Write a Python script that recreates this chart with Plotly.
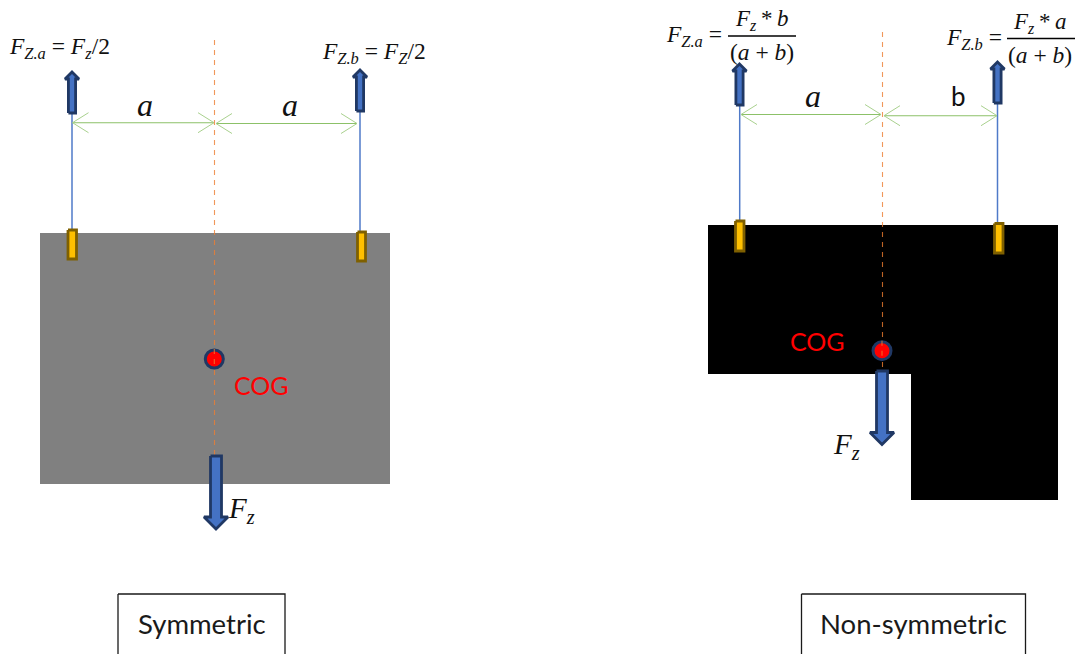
import plotly.graph_objects as go

# --- Diagram geometry (pixel units of the page) ---
body_sym_x = [40, 390, 390, 40, 40]
body_sym_y = [233, 233, 484, 484, 233]
body_non_x = [708, 1058, 1058, 911, 911, 708, 708]
body_non_y = [225, 225, 500, 500, 374, 374, 225]

center_x = [214.5, 882.5]
center_top = [40, 32]
center_bottom = [455, 370]

sling_x = [72, 360, 739.7, 997.5]
sling_top = [112, 110, 105, 103]
sling_bottom = [231, 233, 222, 224]

lug_left = [68, 357.5, 735.5, 994.5]
lug_right = [76.5, 365.5, 744, 1003]
lug_top = [230, 232, 221, 223.5]
lug_bottom = [259, 261, 251, 253]

up_x = [72, 360, 739.5, 997.5]
up_tip = [72, 70, 64, 62]
up_tail = [113, 111, 105, 103]

down_x = [216, 882]
down_tail = [456, 371]
down_tip = [529, 444.5]

dim_left = [72.5, 216, 741, 884]
dim_right = [214, 357, 881, 997]
dim_y = [122.7, 123.5, 114.5, 115.7]

cog_x = [214.3, 882]
cog_y = [359, 350.7]

box_left = [118, 801.5]
box_right = [285, 1025.5]
box_top = [594, 594]
box_bottom = [670, 670]
box_labels = ["Symmetric", "Non-symmetric"]

rule_left = [728, 1007]
rule_right = [796, 1075]
rule_y = [36, 38.5]

MATH = "Liberation Serif"
SANS = "Lato"
DASH = "rgba(237,125,49,0.8)"

fig = go.Figure()


def poly(xs, ys, fill=None, stroke=None, width=0, dash=None):
    fig.add_trace(go.Scatter(
        x=xs, y=ys, mode="lines", hoverinfo="skip", showlegend=False,
        fill="toself" if fill else "none", fillcolor=fill,
        line=dict(color=stroke if stroke else "rgba(0,0,0,0)", width=width, dash=dash),
    ))


# bodies
poly(body_sym_x, body_sym_y, fill="#808080")
poly(body_non_x, body_non_y, fill="#000000")

# slings
for x, a, b in zip(sling_x, sling_top, sling_bottom):
    poly([x, x], [a, b], stroke="#4F7AC8", width=1.5)

# centre lines
for x, a, b in zip(center_x, center_top, center_bottom):
    poly([x, x], [a, b], stroke=DASH, width=1.1, dash="5px,5px")

# lugs
for l, r, t, b in zip(lug_left, lug_right, lug_top, lug_bottom):
    poly([l, r, r, l, l], [t, t, b, b, t], fill="#FFC000", stroke="#7F6000", width=2.8)

# lifting arrows
for x, t, b in zip(up_x, up_tip, up_tail):
    poly([x - 3.6, x - 3.6, x - 7, x, x + 7, x + 3.6, x + 3.6, x - 3.6],
         [b, t + 7, t + 7, t, t + 7, t + 7, b, b],
         fill="#4472C4", stroke="#203864", width=2.8)

# gravity arrows
for x, t, b in zip(down_x, down_tail, down_tip):
    poly([x - 5.5, x + 5.5, x + 5.5, x + 12, x, x - 12, x - 5.5, x - 5.5],
         [t, t, b - 12, b - 12, b, b - 12, b - 12, t],
         fill="#4472C4", stroke="#203864", width=2.8)

# dimension lines with open heads
for l, r, y in zip(dim_left, dim_right, dim_y):
    poly([l, r], [y, y], stroke="#8CC168", width=1.1)
    poly([l + 16, l, l + 16], [y - 10, y, y + 10], stroke="#A9D18E", width=1)
    poly([r - 16, r, r - 16], [y - 10, y, y + 10], stroke="#A9D18E", width=1)

# centre of gravity markers
fig.add_trace(go.Scatter(
    x=cog_x, y=cog_y, mode="markers", hoverinfo="skip", showlegend=False,
    marker=dict(size=18, color="#FF0000", line=dict(color="#203864", width=3)),
))
for x, y in zip(cog_x, cog_y):
    poly([x, x], [y - 10, y + 10], stroke=DASH, width=1.1, dash="5px,5px")

# name boxes
for l, r, t, b in zip(box_left, box_right, box_top, box_bottom):
    poly([l, r, r, l, l], [t, t, b, b, t], stroke="#1A1A1A", width=1.3)

# fraction rules
for l, r, y in zip(rule_left, rule_right, rule_y):
    poly([l, r], [y, y], stroke="#000000", width=1.5)


def text(x, y, s, size, family=MATH, color="#111111", anchor="center"):
    fig.add_annotation(x=x, y=y, xref="x", yref="y", text=s, showarrow=False,
                       xanchor=anchor, yanchor="middle",
                       font=dict(family=family, size=size, color=color))


FZA = "<i>F<sub>Z.a</sub></i>"
FZB = "<i>F<sub>Z.b</sub></i>"
Fz = "<i>F<sub>z</sub></i>"
FZ = "<i>F<sub>Z</sub></i>"

text(7, 48, f"{FZA} = {Fz}/2", 23.5, anchor="left")
text(320, 53, f"{FZB} = {FZ}/2", 23.5, anchor="left")
text(664, 36, f"{FZA} =", 23.5, anchor="left")
text(944, 39, f"{FZB} =", 23.5, anchor="left")
text(762, 20, f"{Fz}\u2009*\u2009<i>b</i>", 23)
text(762, 52, "(<i>a</i> + <i>b</i>)", 23.5)
text(1040, 23, f"{Fz}\u2009*\u2009<i>a</i>", 23)
text(1040, 55, "(<i>a</i> + <i>b</i>)", 23.5)

text(145, 105, "<i>a</i>", 32)
text(290, 105, "<i>a</i>", 32)
text(813, 96, "<i>a</i>", 32)
text(958, 96, "b", 26, family=SANS)

text(241, 510, Fz, 29)
text(846, 446, Fz, 29)

text(261, 385, "COG", 25, family=SANS, color="#FF0000")
text(817, 341, "COG", 25, family=SANS, color="#FF0000")

for l, r, s in zip(box_left, box_right, box_labels):
    text((l + r) / 2, 623, s, 27.5, family=SANS, color="#1A1A1A")

fig.update_layout(
    width=1076, height=654, margin=dict(l=0, r=0, t=0, b=0),
    paper_bgcolor="white", plot_bgcolor="white",
    xaxis=dict(range=[0, 1076], visible=False, fixedrange=True),
    yaxis=dict(range=[654, 0], visible=False, fixedrange=True),
)
fig.write_html("out.html", post_script="document.body.style.margin='0';",
               config={"displayModeBar": False})
